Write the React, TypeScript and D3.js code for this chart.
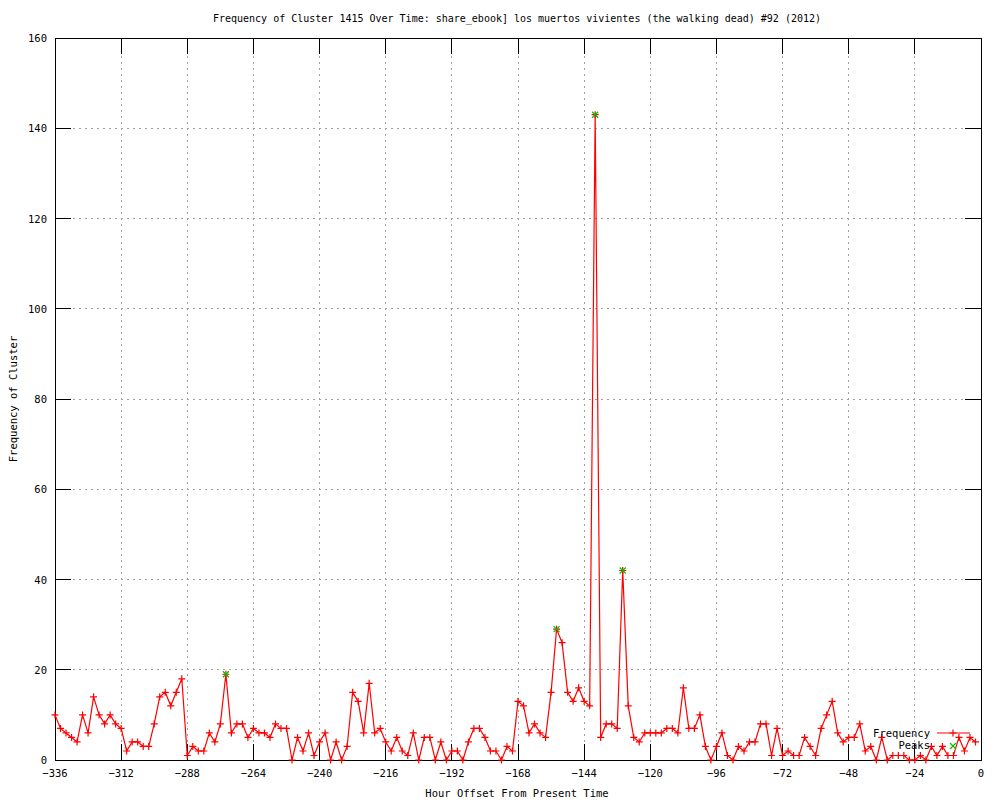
import React, { useEffect, useRef } from "react";
import * as d3 from "d3";

const startHour = -336;
const stepHours = 2;
const frequency: number[] = [
  10, 7, 6, 5, 4, 10, 6, 14, 10, 8, 10, 8, 7, 2, 4, 4, 3, 3, 8, 14,
  15, 12, 15, 18, 1, 3, 2, 2, 6, 4, 8, 19, 6, 8, 8, 5, 7, 6, 6, 5,
  8, 7, 7, 0, 5, 2, 6, 1, 4, 6, 0, 4, 0, 3, 15, 13, 6, 17, 6, 7,
  4, 2, 5, 2, 1, 6, 0, 5, 5, 0, 4, 0, 2, 2, 0, 4, 7, 7, 5, 2,
  2, 0, 3, 2, 13, 12, 6, 8, 6, 5, 15, 29, 26, 15, 13, 16, 13, 12, 143, 5,
  8, 8, 7, 42, 12, 5, 4, 6, 6, 6, 6, 7, 7, 6, 16, 7, 7, 10, 3, 0,
  3, 6, 1, 0, 3, 2, 4, 4, 8, 8, 1, 7, 1, 2, 1, 1, 5, 3, 1, 7,
  10, 13, 6, 4, 5, 5, 8, 2, 3, 0, 5, 0, 1, 1, 1, 0, 0, 1, 0, 3,
  1, 3, 1, 1, 5, 2, 5, 4,
];
const peakHours: number[] = [-274, -154, -140, -130];
const peakValues: number[] = [19, 29, 143, 42];
const xTicks: number[] = [-336, -312, -288, -264, -240, -216, -192, -168, -144, -120, -96, -72, -48, -24, 0];
const yTicks: number[] = [0, 20, 40, 60, 80, 100, 120, 140, 160];

const titleText = "Frequency of Cluster 1415 Over Time: share_ebook] los muertos vivientes (the walking dead) #92 (2012)";

export default function App() {
  const ref = useRef<SVGSVGElement>(null);

  useEffect(() => {
    const svg = d3.select(ref.current);
    svg.selectAll("*").remove();
    const W = 1000, H = 800;
    const L = 55, R = 981, T = 38, B = 760;
    const font = "'DejaVu Sans Mono', monospace";
    const x = d3.scaleLinear().domain([-336, 0]).range([L, R]);
    const y = d3.scaleLinear().domain([0, 160]).range([B, T]);

    svg.append("rect").attr("width", W).attr("height", H).attr("fill", "#fff");

    const g = svg.append("g");
    // grid
    xTicks.slice(1, -1).forEach((t) => {
      g.append("line").attr("x1", x(t)).attr("x2", x(t)).attr("y1", T).attr("y2", B)
        .attr("stroke", "#a0a0a0").attr("stroke-dasharray", "2,4").attr("shape-rendering", "crispEdges");
    });
    yTicks.slice(1, -1).forEach((t) => {
      g.append("line").attr("x1", L).attr("x2", R).attr("y1", y(t)).attr("y2", y(t))
        .attr("stroke", "#a0a0a0").attr("stroke-dasharray", "2,4").attr("shape-rendering", "crispEdges");
    });
    // ticks
    const tl = 16;
    xTicks.forEach((t) => {
      g.append("line").attr("x1", x(t)).attr("x2", x(t)).attr("y1", B).attr("y2", B - tl)
        .attr("stroke", "#000").attr("shape-rendering", "crispEdges");
      g.append("line").attr("x1", x(t)).attr("x2", x(t)).attr("y1", T).attr("y2", T + tl)
        .attr("stroke", "#000").attr("shape-rendering", "crispEdges");
      g.append("text").attr("x", x(t)).attr("y", 777).attr("text-anchor", "middle")
        .attr("font-family", font).attr("font-size", 10.5).text(t === 0 ? "0" : "\u2212" + Math.abs(t));
    });
    yTicks.forEach((t) => {
      g.append("line").attr("x1", L).attr("x2", L + tl).attr("y1", y(t)).attr("y2", y(t))
        .attr("stroke", "#000").attr("shape-rendering", "crispEdges");
      g.append("line").attr("x1", R).attr("x2", R - tl).attr("y1", y(t)).attr("y2", y(t))
        .attr("stroke", "#000").attr("shape-rendering", "crispEdges");
      g.append("text").attr("x", 47).attr("y", y(t) + 4).attr("text-anchor", "end")
        .attr("font-family", font).attr("font-size", 10.5).text(String(t));
    });
    // border
    g.append("rect").attr("x", L).attr("y", T).attr("width", R - L).attr("height", B - T)
      .attr("fill", "none").attr("stroke", "#000").attr("shape-rendering", "crispEdges");

    // series
    const pts = frequency.map((v, i) => [startHour + i * stepHours, v] as [number, number]);
    const line = d3.line<[number, number]>().x((d) => x(d[0])).y((d) => y(d[1]));
    g.append("path").attr("d", line(pts)).attr("fill", "none").attr("stroke", "#ff0000").attr("stroke-width", 1.2);
    const ms = 3.5;
    const plus = (cx: number, cy: number, color: string) => {
      g.append("path").attr("d", `M${cx - ms},${cy}H${cx + ms}M${cx},${cy - ms}V${cy + ms}`)
        .attr("stroke", color).attr("stroke-width", 1.2).attr("fill", "none");
    };
    const cross = (cx: number, cy: number, color: string) => {
      const s = 3;
      g.append("path").attr("d", `M${cx - s},${cy - s}L${cx + s},${cy + s}M${cx - s},${cy + s}L${cx + s},${cy - s}`)
        .attr("stroke", color).attr("stroke-width", 1.2).attr("fill", "none");
    };
    pts.forEach((p) => plus(x(p[0]), y(p[1]), "#ff0000"));
    peakHours.forEach((h, i) => cross(x(h), y(peakValues[i]), "#00c000"));

    // legend
    g.append("text").attr("x", 930).attr("y", 737).attr("text-anchor", "end")
      .attr("font-family", font).attr("font-size", 10.5).text("Frequency");
    g.append("line").attr("x1", 937).attr("x2", 970).attr("y1", 733).attr("y2", 733)
      .attr("stroke", "#ff0000").attr("stroke-width", 1.2);
    plus(953, 733, "#ff0000");
    g.append("text").attr("x", 930).attr("y", 749).attr("text-anchor", "end")
      .attr("font-family", font).attr("font-size", 10.5).text("Peaks");
    cross(953, 746, "#00c000");

    // titles
    svg.append("text").attr("x", 517).attr("y", 22).attr("text-anchor", "middle")
      .attr("font-family", font).attr("font-size", 10).text(titleText);
    svg.append("text").attr("x", 517).attr("y", 797).attr("text-anchor", "middle")
      .attr("font-family", font).attr("font-size", 10.5).text("Hour Offset From Present Time");
    svg.append("text").attr("transform", `translate(17,${(T + B) / 2}) rotate(-90)`).attr("text-anchor", "middle")
      .attr("font-family", font).attr("font-size", 10.5).text("Frequency of Cluster");
  }, []);

  return (
    <svg ref={ref} width={1000} height={800} style={{ position: "absolute", left: 0, top: 0 }} />
  );
}
